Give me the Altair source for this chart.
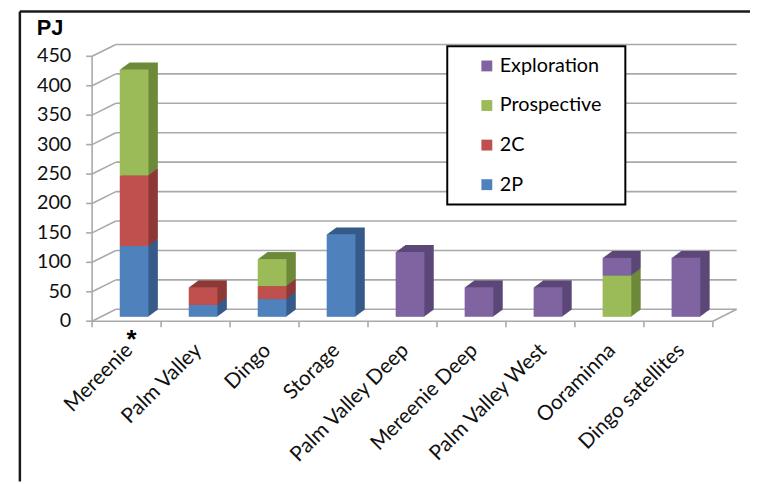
import altair as alt
import pandas as pd

# ---------------- data ----------------
categories = ["Mereenie", "Palm Valley", "Dingo", "Storage", "Palm Valley Deep",
              "Mereenie Deep", "Palm Valley West", "Ooraminna", "Dingo satellites"]
series = ["2P", "2C", "Prospective", "Exploration"]
values_2p = [120, 20, 30, 140, 0, 0, 0, 0, 0]
values_2c = [120, 30, 22, 0, 0, 0, 0, 0, 0]
values_prospective = [180, 0, 46, 0, 0, 0, 0, 70, 0]
values_exploration = [0, 0, 0, 0, 110, 50, 50, 30, 100]
y_ticks = [0, 50, 100, 150, 200, 250, 300, 350, 400, 450]
legend_order = ["Exploration", "Prospective", "2C", "2P"]

# ---------------- styling ----------------
front_colors = {"2P": "#4f81bd", "2C": "#c0504d", "Prospective": "#9bbb59", "Exploration": "#8064a2"}
side_colors = {"2P": "#375b89", "2C": "#8c3a38", "Prospective": "#6d8a3a", "Exploration": "#5c4878"}
GRID = "#a9a9a9"
FONT = "Lato"

series_values = [values_2p, values_2c, values_prospective, values_exploration]
rows = []
for i, cat in enumerate(categories):
    base = 0
    for s, vals in zip(series, series_values):
        v = vals[i]
        if v > 0:
            rows.append(dict(category=cat, idx=i, series=s, y0=base, y1=base + v,
                             side=side_colors[s]))
            base += v
bars = pd.DataFrame(rows)
grid_df = pd.DataFrame({"v": y_ticks})
edges_df = pd.DataFrame({"e": [k - 0.5 for k in range(len(categories) + 1)]})
cat_df = pd.DataFrame({"category": categories, "idx": list(range(len(categories)))})
one = pd.DataFrame({"a": [0]})

XMIN, XMAX = -0.5, len(categories) - 0.5
XS = alt.Scale(domain=[XMIN, XMAX], range=[80, 717.5], nice=False, zero=False)
YS = alt.Scale(domain=[0, 450], range=[309.5, 41.75], nice=False, zero=False)

FRONT_DY = 4.5     # front plane offset (px) relative to bar plane
BACK_DX, BACK_DY = 24, -12   # back wall offset (px) relative to front plane
BAR_DX = 7.6
BAR_W = 29


def xd(v):
    return alt.XDatum(v, scale=XS, axis=None, type="quantitative")


def yd(v):
    return alt.YDatum(v, scale=YS, axis=None, type="quantitative")


def yf(f):
    return alt.Y(f, scale=YS, axis=None)


def xf(f):
    return alt.X(f, scale=XS, axis=None)


layers = []

# back wall gridlines
layers.append(alt.Chart(grid_df).mark_rule(
    color=GRID, strokeWidth=1.6,
    xOffset=BACK_DX, x2Offset=BACK_DX,
    yOffset=FRONT_DY + BACK_DY, y2Offset=FRONT_DY + BACK_DY
).encode(x=xd(XMIN), x2=alt.X2Datum(XMAX), y=yf("v:Q")))

# left side wall diagonals
layers.append(alt.Chart(grid_df).mark_rule(
    color=GRID, strokeWidth=1.6,
    yOffset=FRONT_DY, x2Offset=BACK_DX, y2Offset=FRONT_DY + BACK_DY
).encode(x=xd(XMIN), x2=alt.X2Datum(XMIN), y=yf("v:Q"), y2=alt.Y2("v:Q")))

# floor: front edge and right edge
layers.append(alt.Chart(one).mark_rule(color=GRID, strokeWidth=1.6, yOffset=FRONT_DY).encode(
    x=xd(XMIN), x2=alt.X2Datum(XMAX), y=yd(0)))
layers.append(alt.Chart(one).mark_rule(
    color=GRID, strokeWidth=1.6, yOffset=FRONT_DY, x2Offset=BACK_DX, y2Offset=FRONT_DY + BACK_DY
).encode(x=xd(XMAX), x2=alt.X2Datum(XMAX), y=yd(0), y2=alt.Y2Datum(0)))

# front value axis line + ticks
layers.append(alt.Chart(one).mark_rule(color=GRID, strokeWidth=1.6, yOffset=FRONT_DY, y2Offset=FRONT_DY).encode(
    x=xd(XMIN), y=yd(0), y2=alt.Y2Datum(450)))
layers.append(alt.Chart(grid_df).mark_rule(color=GRID, strokeWidth=1.6, yOffset=FRONT_DY, x2Offset=-6).encode(
    x=xd(XMIN), x2=alt.X2Datum(XMIN), y=yf("v:Q")))
# category axis ticks
layers.append(alt.Chart(edges_df).mark_rule(color=GRID, strokeWidth=1.6, yOffset=FRONT_DY, y2Offset=FRONT_DY + 6).encode(
    x=xf("e:Q"), y=yd(0), y2=alt.Y2Datum(0)))

# bar extrusion (side/top faces), drawn back to front
N = 12
for k in range(N, 0, -1):
    dx = BAR_DX + k * 9.5 / N
    dy = -k * 7.0 / N
    layers.append(alt.Chart(bars).mark_bar(
        width=BAR_W, xOffset=dx, yOffset=dy, y2Offset=dy
    ).encode(x=xf("idx:Q"), y=yf("y1:Q"), y2=alt.Y2("y0:Q"),
             fill=alt.Fill("side:N", scale=None)))

# bar front faces
layers.append(alt.Chart(bars).mark_bar(width=BAR_W, xOffset=BAR_DX).encode(
    x=xf("idx:Q"), y=yf("y1:Q"), y2=alt.Y2("y0:Q"),
    color=alt.Color("series:N",
                    scale=alt.Scale(domain=legend_order, range=[front_colors[s] for s in legend_order]),
                    legend=alt.Legend(title=None, orient="none", legendX=474, legendY=46,
                                      symbolType="square", symbolSize=121, symbolStrokeWidth=0,
                                      labelFont=FONT, labelFontSize=20, labelColor="black",
                                      labelOffset=3, rowPadding=20, padding=0)),
    order=alt.Order("y0:Q")))

# legend frame
layers.append(alt.Chart(one).mark_rect(fill="white", stroke="black", strokeWidth=2).encode(
    x=alt.value(444), x2=alt.value(624), y=alt.value(36), y2=alt.value(196)))

# value axis labels
layers.append(alt.Chart(grid_df).mark_text(
    align="right", baseline="middle", xOffset=-21, yOffset=FRONT_DY,
    font=FONT, fontSize=20, color="#111111"
).encode(x=xd(XMIN), y=yf("v:Q"), text="v:Q"))

# category labels
layers.append(alt.Chart(cat_df).mark_text(
    angle=315, align="right", baseline="middle", xOffset=3, yOffset=31,
    font=FONT, fontSize=21, color="#111111"
).encode(x=xf("idx:Q"), y=yd(0), text="category:N"))

# asterisk on Mereenie
layers.append(alt.Chart(one).mark_text(
    align="center", baseline="middle", xOffset=5, yOffset=24,
    font="Liberation Sans", fontSize=26, fontWeight="bold", color="black"
).encode(x=xd(0), y=yd(0), text=alt.value("*")))

# unit title
layers.append(alt.Chart(one).mark_text(
    align="left", baseline="alphabetic", font="Liberation Sans", fontSize=22,
    fontWeight="bold", color="black"
).encode(x=alt.value(29), y=alt.value(25), text=alt.value("PJ")))

# outer frame
layers.append(alt.Chart(one).mark_rule(color="#1a1a1a", strokeWidth=2.5).encode(
    x=alt.value(12), y=alt.value(1), y2=alt.value(476)))
layers.append(alt.Chart(one).mark_rule(color="#1a1a1a", strokeWidth=2.5).encode(
    x=alt.value(12), x2=alt.value(750), y=alt.value(1)))

chart = alt.layer(*layers).properties(
    width=750, height=476, padding=0, autosize="none", background="white"
).configure_view(stroke=None)

chart.save("out.html", embed_options={"renderer": "svg", "actions": False})
